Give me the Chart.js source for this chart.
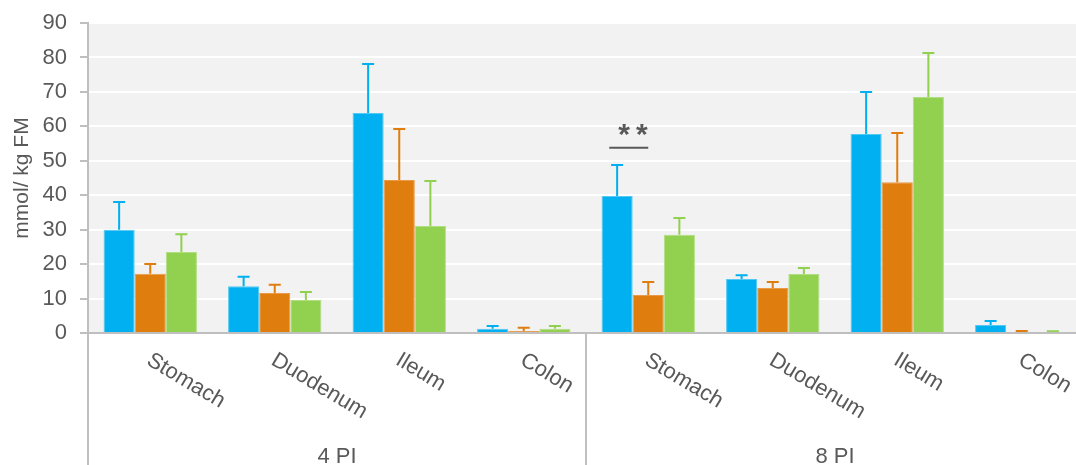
<!DOCTYPE html>
<html>
<head>
<meta charset="utf-8">
<script src="https://cdn.jsdelivr.net/npm/chart.js@4/dist/chart.umd.min.js"></script>
<style>
  html, body { margin: 0; padding: 0; background: #ffffff; overflow: hidden; }
  #wrap { width: 1090px; height: 465px; position: relative; }
</style>
</head>
<body>
<div id="wrap"><canvas id="chart"></canvas></div>
<script>
// Tissue categories, repeated for each time point
const categories = ['Stomach', 'Duodenum', 'Ileum', 'Colon', 'Stomach', 'Duodenum', 'Ileum', 'Colon'];
const groupLabels = ['4 PI', '8 PI'];
const yTickValues = [0, 10, 20, 30, 40, 50, 60, 70, 80, 90];

// Means (mmol/ kg FM)
const series1Mean = [30.0, 13.6, 63.9, 1.2, 39.8, 15.7, 57.8, 2.3];
const series2Mean = [17.2, 11.6, 44.4, 0.6, 11.0, 13.1, 43.8, 0.3];
const series3Mean = [23.5, 9.6, 31.1, 1.2, 28.5, 17.1, 68.5, 0.3];

// Upper error (standard deviation)
const series1Err = [8.0, 2.7, 14.2, 0.8, 9.0, 1.1, 12.2, 1.2];
const series2Err = [2.8, 2.4, 14.8, 0.9, 3.8, 1.7, 14.3, 0.3];
const series3Err = [5.2, 2.3, 13.0, 0.8, 4.9, 1.8, 12.8, 0.2];

// Significance marker: category index, bracket value, text
const sigMarks = [{ index: 4, value: 53.8, text: '**' }];

const colors = ['#00b0f0', '#df7d0f', '#92d050'];
const borders = ['#52c8f2', '#e99a48', '#b0de80'];
const textColor = '#595959';
const axisColor = '#bfbfbf';
const fontFamily = '"Liberation Sans", Arial, sans-serif';

const errs = [series1Err, series2Err, series3Err];

const decorations = {
  id: 'decorations',
  beforeDraw(chart) {
    const { ctx, chartArea } = chart;
    ctx.save();
    ctx.fillStyle = '#f2f2f2';
    ctx.fillRect(chartArea.left, chartArea.top, chartArea.right - chartArea.left, chartArea.bottom - chartArea.top);
    ctx.restore();
  },
  afterDatasetsDraw(chart) {
    const { ctx, chartArea, scales } = chart;
    const y = scales.y, x = scales.x;
    ctx.save();

    // error bars (upper only)
    chart.data.datasets.forEach((ds, di) => {
      const meta = chart.getDatasetMeta(di);
      ctx.strokeStyle = ds.backgroundColor;
      ctx.lineWidth = 2;
      meta.data.forEach((bar, i) => {
        const top = y.getPixelForValue(ds.data[i] + errs[di][i]);
        ctx.beginPath();
        ctx.moveTo(bar.x, bar.y);
        ctx.lineTo(bar.x, top);
        ctx.moveTo(bar.x - 6, top);
        ctx.lineTo(bar.x + 6, top);
        ctx.stroke();
      });
    });

    // horizontal axis line
    const base = y.getPixelForValue(0);
    ctx.strokeStyle = axisColor;
    ctx.lineWidth = 2;
    ctx.beginPath();
    ctx.moveTo(chartArea.left - 8, base);
    ctx.lineTo(chartArea.right, base);
    ctx.stroke();

    // group separators running down through the label area
    const step = (chartArea.right - chartArea.left) / categories.length;
    const H = chart.height;
    [0, 4, 8].forEach(k => {
      const px = chartArea.left + k * step;
      ctx.beginPath();
      ctx.moveTo(px, k === 0 ? chartArea.top : base);
      ctx.lineTo(px, H);
      ctx.stroke();
    });

    // rotated category labels
    ctx.fillStyle = textColor;
    ctx.font = '22px ' + fontFamily;
    ctx.textAlign = 'left';
    ctx.textBaseline = 'top';
    categories.forEach((c, i) => {
      const px = x.getPixelForValue(i);
      ctx.save();
      ctx.translate(px + 4, base + 16);
      ctx.rotate(31 * Math.PI / 180);
      ctx.fillText(c, 0, 0);
      ctx.restore();
    });

    // group labels
    ctx.textAlign = 'center';
    ctx.textBaseline = 'alphabetic';
    groupLabels.forEach((g, gi) => {
      const cx = chartArea.left + (gi * 4 + 2) * step;
      ctx.fillText(g, cx, H - 2);
    });

    // significance bracket
    sigMarks.forEach(m => {
      const cx = x.getPixelForValue(m.index);
      const ly = y.getPixelForValue(m.value);
      ctx.strokeStyle = textColor;
      ctx.lineWidth = 2;
      ctx.beginPath();
      ctx.moveTo(cx - 39, ly);
      ctx.lineTo(cx, ly);
      ctx.stroke();
      ctx.font = 'bold 30px ' + fontFamily;
      ctx.textAlign = 'left';
      ctx.textBaseline = 'alphabetic';
      ctx.letterSpacing = '6px';
      ctx.fillText(m.text, cx - 30, ly - 4);
      ctx.letterSpacing = '0px';
    });

    ctx.restore();
  }
};

new Chart(document.getElementById('chart'), {
  type: 'bar',
  data: {
    labels: categories,
    datasets: [
      { data: series1Mean, backgroundColor: colors[0], borderColor: borders[0] },
      { data: series2Mean, backgroundColor: colors[1], borderColor: borders[1] },
      { data: series3Mean, backgroundColor: colors[2], borderColor: borders[2] }
    ].map(d => Object.assign(d, { borderWidth: 1, borderSkipped: 'bottom', categoryPercentage: 0.75, barPercentage: 1.0 }))
  },
  options: {
    responsive: true,
    maintainAspectRatio: false,
    animation: false,
    events: [],
    layout: { padding: { top: 23, right: 6, bottom: 132, left: 0 } },
    plugins: { legend: { display: false }, tooltip: { enabled: false } },
    scales: {
      x: { display: false },
      y: {
        min: 0,
        max: 90,
        afterBuildTicks(scale) { scale.ticks = yTickValues.map(v => ({ value: v })); },
        afterFit(scale) { scale.width = 88; },
        ticks: { color: textColor, font: { family: fontFamily, size: 22, lineHeight: 0.5 }, padding: 13 },
        grid: { color: '#ffffff', lineWidth: 2, tickColor: axisColor, tickLength: 8, tickWidth: 2 },
        border: { display: true, color: axisColor, width: 2 },
        title: { display: true, text: 'mmol/ kg FM', color: textColor, font: { family: fontFamily, size: 21 }, padding: { top: 10, bottom: 0 } }
      }
    }
  },
  plugins: [decorations]
});
</script>
</body>
</html>
